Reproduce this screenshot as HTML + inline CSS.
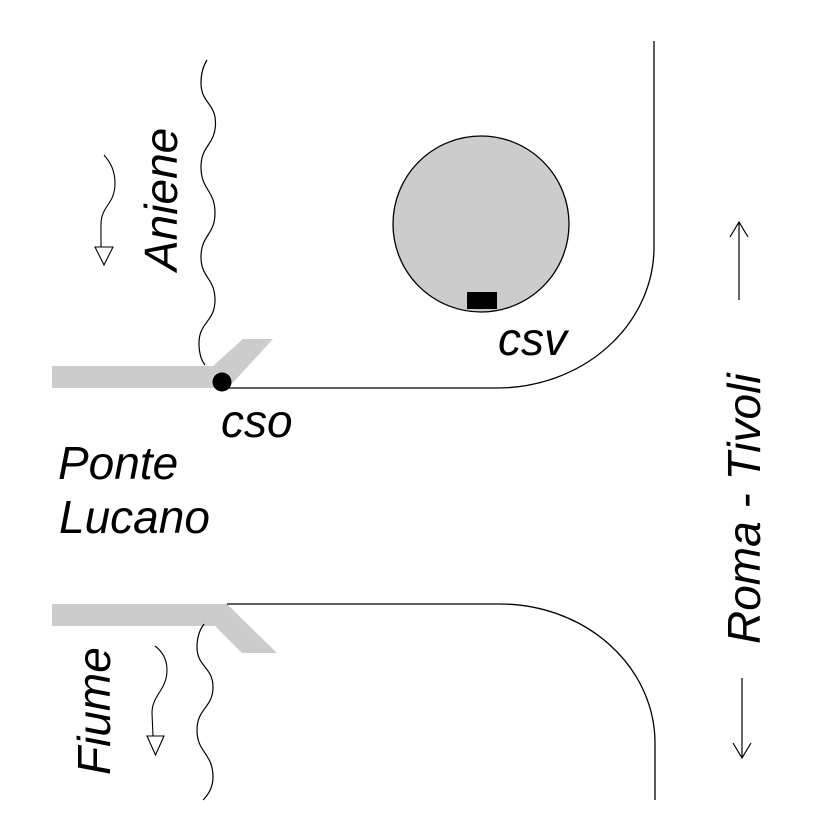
<!DOCTYPE html>
<html><head><meta charset="utf-8"><style>
html,body{margin:0;padding:0;background:#fff;}
svg{display:block;}
text{font-family:"Liberation Sans",Arial,sans-serif;font-style:italic;font-size:46px;fill:#000;}
</style></head><body>
<svg width="826" height="826" viewBox="0 0 826 826" xmlns="http://www.w3.org/2000/svg">
<rect width="826" height="826" fill="#fff"/>
<!-- gray bars -->
<polygon points="52,366 213,366 243,339 273,339 228,388 52,388" fill="#cccccc"/>
<polygon points="52,604 227,604 277,653 242,653 215,626 52,626" fill="#cccccc"/>
<!-- road lines -->
<path d="M222,388 L497,388 A157 141 0 0 0 654,247 L654,41" fill="none" stroke="#000" stroke-width="1.3"/>
<path d="M227,604 L500,604 A155 139 0 0 1 655,743 L655,800" fill="none" stroke="#000" stroke-width="1.3"/>
<!-- cso dot -->
<circle cx="222" cy="382" r="9.5" fill="#000"/>
<!-- circle csv -->
<circle cx="481" cy="224" r="88" fill="#cccccc" stroke="#000" stroke-width="1.3"/>
<rect x="467" y="292" width="30" height="17" fill="#000"/>
<!-- river waves -->
<path d="M207,60 C202,68 201,76 201,83 C201,103 215.5,103 215.5,123 C215.5,145 201,145 201,167 C201,190 215,190 215,213 C215,235 201,235 201,257 C201,278 215,278 215,300 C215,322 199,322 199,343 C199,352 201,360 205,365" fill="none" stroke="#000" stroke-width="1.2"/>
<path d="M204,624 C198,632 197,640 197,647 C197,667 213,667 213,687 C213,708 197,708 197,730 C197,753 213,753 213,777 C213,788 208,795 203,800" fill="none" stroke="#000" stroke-width="1.2"/>
<!-- flow arrows -->
<path d="M104,155 C110,162 115,170 115,183 C115,205 101,205 101,225 L101,247" fill="none" stroke="#000" stroke-width="1.1"/>
<polygon points="95,247 113,247 104,265" fill="#fff" stroke="#000" stroke-width="1.1"/>
<path d="M155,646 C163,652 167,660 167,670 C167,690 152,695 152,713 L153,736" fill="none" stroke="#000" stroke-width="1.1"/>
<polygon points="147,736 164,736 155.5,755" fill="#fff" stroke="#000" stroke-width="1.1"/>
<!-- road direction arrows -->
<path d="M739,300 L739,222 M730,237 L739,222 L748,237" fill="none" stroke="#000" stroke-width="1.2"/>
<path d="M742,678 L742,758 M733,743 L742,758 L751,743" fill="none" stroke="#000" stroke-width="1.2"/>
<!-- labels -->
<text transform="translate(177,271) rotate(-90)">Aniene</text>
<text transform="translate(110,775) rotate(-90)">Fiume</text>
<text transform="translate(760,644) rotate(-90)">Roma - Tivoli</text>
<text x="221" y="437">cso</text>
<text x="498" y="355">csv</text>
<text x="58" y="479">Ponte</text>
<text x="59" y="533">Lucano</text>
</svg>
</body></html>
